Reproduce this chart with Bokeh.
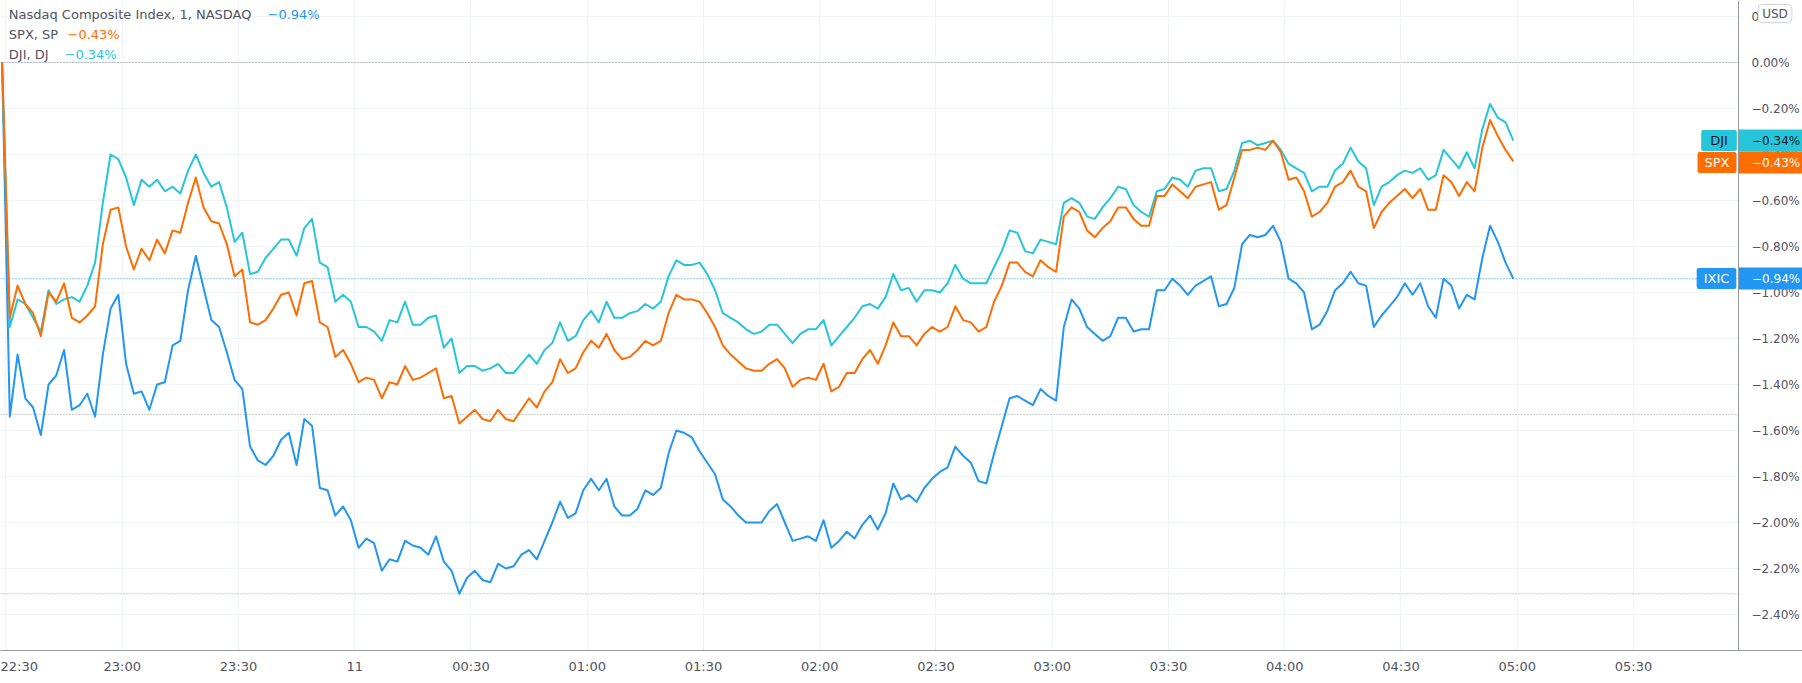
from bokeh.plotting import figure
from bokeh.models import Range1d, FixedTicker, Label, Span, BoxAnnotation
from bokeh.embed import file_html
from bokeh.resources import INLINE

# ---------------- data (percent change, 1-minute bars read every 2 minutes) -------------
# minutes after 22:30, first sample at minute -1 (the comparison base = 0 %)
FIRST_MINUTE = -1
STEP_MINUTES = 2

ixic = [0.00, -1.54, -1.27, -1.46, -1.50, -1.62, -1.40, -1.36, -1.25, -1.51,
        -1.49, -1.44, -1.54, -1.27, -1.07, -1.01, -1.31, -1.44, -1.43, -1.51,
        -1.40, -1.39, -1.23, -1.21, -0.99, -0.84, -0.98, -1.12, -1.15, -1.26,
        -1.38, -1.42, -1.67, -1.73, -1.75, -1.71, -1.64, -1.61, -1.75, -1.55,
        -1.58, -1.85, -1.86, -1.97, -1.93, -1.99, -2.11, -2.07, -2.09, -2.21,
        -2.16, -2.17, -2.08, -2.10, -2.11, -2.14, -2.06, -2.17, -2.21, -2.31,
        -2.24, -2.21, -2.25, -2.26, -2.18, -2.20, -2.19, -2.14, -2.12, -2.16,
        -2.08, -2.00, -1.91, -1.98, -1.96, -1.86, -1.81, -1.86, -1.81, -1.93,
        -1.97, -1.97, -1.94, -1.86, -1.88, -1.85, -1.70, -1.60, -1.61, -1.63,
        -1.69, -1.74, -1.79, -1.90, -1.93, -1.97, -2.00, -2.00, -2.00, -1.95,
        -1.92, -2.00, -2.08, -2.07, -2.06, -2.08, -1.99, -2.11, -2.08, -2.04,
        -2.07, -2.01, -1.97, -2.03, -1.96, -1.83, -1.90, -1.88, -1.91, -1.85,
        -1.81, -1.78, -1.76, -1.67, -1.71, -1.74, -1.82, -1.83, -1.70, -1.58,
        -1.46, -1.45, -1.47, -1.49, -1.42, -1.45, -1.47, -1.15, -1.03, -1.07,
        -1.15, -1.18, -1.21, -1.19, -1.11, -1.11, -1.17, -1.16, -1.16, -0.99,
        -0.99, -0.94, -0.97, -1.01, -0.97, -0.95, -0.93, -1.06, -1.05, -0.98,
        -0.79, -0.75, -0.76, -0.75, -0.71, -0.78, -0.94, -0.96, -1.00, -1.16,
        -1.14, -1.08, -0.99, -0.96, -0.91, -0.96, -0.97, -1.15, -1.10, -1.06,
        -1.02, -0.96, -1.01, -0.96, -1.06, -1.11, -0.94, -0.97, -1.07, -1.01,
        -1.03, -0.85, -0.71, -0.78, -0.87, -0.94]

spx = [0.00, -1.11, -0.97, -1.05, -1.09, -1.19, -1.00, -1.04, -0.96, -1.11,
       -1.13, -1.10, -1.06, -0.79, -0.64, -0.63, -0.80, -0.90, -0.81, -0.86,
       -0.77, -0.83, -0.73, -0.74, -0.61, -0.50, -0.63, -0.69, -0.70, -0.79,
       -0.93, -0.90, -1.13, -1.14, -1.12, -1.07, -1.01, -1.00, -1.10, -0.96,
       -0.95, -1.13, -1.15, -1.28, -1.25, -1.31, -1.39, -1.37, -1.38, -1.46,
       -1.39, -1.40, -1.32, -1.38, -1.37, -1.35, -1.33, -1.46, -1.45, -1.57,
       -1.54, -1.51, -1.55, -1.56, -1.51, -1.55, -1.56, -1.51, -1.46, -1.50,
       -1.43, -1.39, -1.29, -1.35, -1.33, -1.26, -1.21, -1.24, -1.18, -1.25,
       -1.29, -1.28, -1.25, -1.21, -1.23, -1.21, -1.09, -1.01, -1.03, -1.03,
       -1.04, -1.09, -1.15, -1.23, -1.27, -1.30, -1.33, -1.34, -1.34, -1.31,
       -1.29, -1.33, -1.41, -1.38, -1.37, -1.38, -1.31, -1.43, -1.41, -1.35,
       -1.35, -1.29, -1.25, -1.31, -1.23, -1.13, -1.19, -1.19, -1.23, -1.18,
       -1.15, -1.17, -1.15, -1.06, -1.12, -1.13, -1.17, -1.15, -1.04, -0.97,
       -0.87, -0.87, -0.91, -0.93, -0.86, -0.89, -0.91, -0.67, -0.63, -0.65,
       -0.73, -0.76, -0.72, -0.69, -0.63, -0.63, -0.68, -0.71, -0.71, -0.58,
       -0.58, -0.53, -0.56, -0.59, -0.54, -0.53, -0.52, -0.64, -0.62, -0.50,
       -0.38, -0.38, -0.37, -0.38, -0.34, -0.39, -0.51, -0.50, -0.56, -0.67,
       -0.65, -0.61, -0.54, -0.52, -0.47, -0.54, -0.56, -0.72, -0.65, -0.61,
       -0.58, -0.55, -0.59, -0.55, -0.64, -0.64, -0.49, -0.52, -0.58, -0.52,
       -0.56, -0.37, -0.25, -0.32, -0.38, -0.43]

dji = [0.00, -1.15, -1.03, -1.05, -1.11, -1.17, -0.99, -1.05, -1.03, -1.02,
       -1.04, -0.97, -0.87, -0.61, -0.40, -0.42, -0.50, -0.62, -0.51, -0.54,
       -0.51, -0.56, -0.54, -0.57, -0.47, -0.40, -0.48, -0.54, -0.52, -0.63,
       -0.78, -0.74, -0.92, -0.91, -0.85, -0.81, -0.77, -0.77, -0.84, -0.72,
       -0.68, -0.87, -0.89, -1.04, -1.01, -1.04, -1.15, -1.15, -1.17, -1.21,
       -1.12, -1.13, -1.04, -1.14, -1.14, -1.11, -1.10, -1.24, -1.20, -1.35,
       -1.32, -1.32, -1.34, -1.33, -1.31, -1.35, -1.35, -1.31, -1.27, -1.31,
       -1.25, -1.22, -1.13, -1.21, -1.19, -1.12, -1.08, -1.13, -1.04, -1.11,
       -1.11, -1.09, -1.08, -1.05, -1.07, -1.04, -0.93, -0.86, -0.88, -0.88,
       -0.87, -0.92, -0.99, -1.09, -1.11, -1.13, -1.16, -1.18, -1.17, -1.14,
       -1.14, -1.18, -1.22, -1.18, -1.16, -1.16, -1.12, -1.23, -1.19, -1.15,
       -1.11, -1.06, -1.05, -1.07, -1.02, -0.92, -0.99, -0.98, -1.04, -0.99,
       -0.99, -1.00, -0.96, -0.88, -0.94, -0.96, -0.96, -0.96, -0.89, -0.82,
       -0.73, -0.74, -0.82, -0.83, -0.77, -0.78, -0.79, -0.61, -0.59, -0.61,
       -0.67, -0.68, -0.63, -0.59, -0.54, -0.55, -0.62, -0.65, -0.67, -0.56,
       -0.55, -0.50, -0.51, -0.54, -0.47, -0.46, -0.46, -0.56, -0.55, -0.47,
       -0.35, -0.34, -0.36, -0.35, -0.34, -0.38, -0.44, -0.46, -0.48, -0.56,
       -0.54, -0.54, -0.47, -0.44, -0.37, -0.43, -0.46, -0.62, -0.54, -0.52,
       -0.49, -0.47, -0.48, -0.46, -0.51, -0.49, -0.38, -0.42, -0.46, -0.39,
       -0.46, -0.29, -0.18, -0.24, -0.26, -0.34]

x_ticks = [0, 30, 60, 90, 120, 150, 180, 210, 240, 270, 300, 330, 360, 390, 420]
x_tick_labels = ["22:30", "23:00", "23:30", "11", "00:30", "01:00", "01:30", "02:00",
                 "02:30", "03:00", "03:30", "04:00", "04:30", "05:00", "05:30"]
y_ticks = [0.2, 0.0, -0.2, -0.4, -0.6, -0.8, -1.0, -1.2, -1.4, -1.6, -1.8, -2.0, -2.2, -2.4]
y_tick_labels = ["0.20%", "0.00%", "\u22120.20%", "\u22120.40%", "\u22120.60%", "\u22120.80%",
                 "\u22121.00%", "\u22121.20%", "\u22121.40%", "\u22121.60%", "\u22121.80%",
                 "\u22122.00%", "\u22122.20%", "\u22122.40%"]

ixic_marks = [0.0, -1.53, -2.31]   # dotted high / open / low lines of the main series

legend_names = ["Nasdaq Composite Index, 1, NASDAQ", "SPX, SP", "DJI, DJ"]
badge_names = ["IXIC", "SPX", "DJI"]

# ---------------- layout helpers (page pixels -> data) ----------------
W, H = 1802, 683
AXIS_X = 1738          # page x of the price-scale line
AXIS_Y = 650           # page y of the time-scale line
PX_PER_MIN = 3.875
X_MIN0 = 5.45          # page x of minute 0 (22:30)
PX_PER_PCT = 230.0
Y_PCT0 = 62.0          # page y of 0 %


def t_at(px):
    return (px - X_MIN0) / PX_PER_MIN


def v_at(py):
    return (Y_PCT0 - py) / PX_PER_PCT


def pct(v):
    return f"{v:.2f}%".replace("-", "\u2212")


minutes = [FIRST_MINUTE + STEP_MINUTES * i for i in range(len(ixic))]

C_IXIC, C_SPX, C_DJI = "#2196f3", "#ff6d00", "#26c6da"
FONT = "DejaVu Sans"
TXT = "#50535e"

p = figure(width=W, height=H,
           x_range=Range1d(t_at(0), t_at(W)), y_range=Range1d(v_at(AXIS_Y), v_at(0)),
           y_axis_location="right", toolbar_location=None, output_backend="svg",
           min_border_left=0, min_border_top=0, min_border_right=0,
           min_border_bottom=H - AXIS_Y,
           background_fill_color="white", border_fill_color="white")
p.outline_line_color = None

p.xaxis.ticker = FixedTicker(ticks=x_ticks)
p.xaxis.major_label_overrides = dict(zip(x_ticks, x_tick_labels))
p.yaxis.ticker = FixedTicker(ticks=y_ticks)
p.yaxis.major_label_overrides = dict(zip(y_ticks, y_tick_labels))
p.yaxis.fixed_location = t_at(AXIS_X)
for ax in (p.xaxis[0], p.yaxis[0]):
    ax.axis_line_color = "#9598a1"
    ax.major_tick_out = 0
    ax.major_tick_in = 0
    ax.minor_tick_out = 0
    ax.minor_tick_in = 0
    ax.major_label_text_font = FONT
    ax.major_label_text_color = TXT
p.yaxis.major_label_text_font_size = "12px"
p.xaxis.major_label_text_font_size = "13px"
p.yaxis.major_label_standoff = 13
p.xaxis.major_label_standoff = 8
p.xgrid.grid_line_color = "#f0f3fa"
p.ygrid.grid_line_color = "#f0f3fa"

p.add_layout(Span(location=ixic_marks[0], dimension="width", line_color="#e0e3eb",
                  line_width=1, level="underlay"))
for m in ixic_marks:
    p.add_layout(Span(location=m, dimension="width", line_color="#9598a1",
                      line_dash="1 2", line_width=1, level="underlay"))
p.add_layout(Span(location=ixic[-1], dimension="width", line_color=C_IXIC,
                  line_dash="1 2", line_width=1, level="underlay"))
# price scale area stays clean (no grid, no reference lines)
p.add_layout(BoxAnnotation(left=t_at(AXIS_X), fill_color="white", fill_alpha=1.0,
                           line_color=None, level="underlay"))

p.line(minutes, ixic, line_color=C_IXIC, line_width=2, line_join="round")
p.line(minutes, dji, line_color=C_DJI, line_width=2, line_join="round")
p.line(minutes, spx, line_color=C_SPX, line_width=2, line_join="round")

# legend (top left)
legend_rows = [(legend_names[0], ixic[-1], C_IXIC, 14, 267),
               (legend_names[1], spx[-1], C_SPX, 34, 67),
               (legend_names[2], dji[-1], C_DJI, 54, 64)]
for name, last, col, ypx, xval in legend_rows:
    p.add_layout(Label(x=t_at(8.3), y=v_at(ypx), text=name, text_font=FONT,
                       text_font_size="13px", text_color=TXT, text_baseline="middle"))
    p.add_layout(Label(x=t_at(xval), y=v_at(ypx), text=pct(last), text_font=FONT,
                       text_font_size="13px", text_color=col, text_baseline="middle"))

# price badges on the right scale: (name, last, page y, colour, text colour, name x, pad)
badges = [(badge_names[2], dji[-1], 140, C_DJI, "#131722", 1718.5, 9),
          (badge_names[1], spx[-1], 162, C_SPX, "white", 1716.5, 7),
          (badge_names[0], ixic[-1], 278, C_IXIC, "white", 1716, 7)]
for name, last, ypx, col, fg, xname, pad in badges:
    p.add_layout(Label(x=t_at(xname), y=v_at(ypx), text=name, text_font=FONT,
                       text_font_size="13px", text_color=fg, text_align="center",
                       text_baseline="middle", background_fill_color=col,
                       background_fill_alpha=1.0,
                       padding=dict(left=pad, right=pad, top=3, bottom=3), border_radius=2))
    p.add_layout(Label(x=t_at(AXIS_X + 0.5), y=v_at(ypx), text=pct(last), text_font=FONT,
                       text_font_size="12px", text_color=fg, text_align="left",
                       text_baseline="middle", background_fill_color=col,
                       background_fill_alpha=1.0,
                       padding=dict(left=13, right=8, top=4, bottom=4)))

p.add_layout(Label(x=t_at(1774.5), y=v_at(13), text="USD", text_font=FONT,
                   text_font_size="12px", text_color=TXT, text_align="center",
                   text_baseline="middle", background_fill_color="white",
                   border_line_color="#d1d4dc", border_radius=4,
                   padding=dict(left=4, right=4, top=2, bottom=2)))

open("out.html", "w").write(file_html(p, INLINE))
